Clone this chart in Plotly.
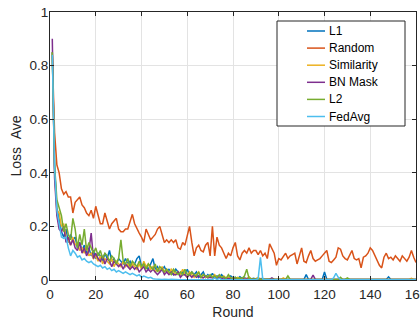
import plotly.graph_objects as go

rounds = list(range(1, 161))

l1 = [0.85, 0.42, 0.27, 0.22, 0.18, 0.16, 0.19, 0.14, 0.17, 0.15,
      0.16, 0.12, 0.14, 0.11, 0.13, 0.10, 0.12, 0.09, 0.11, 0.08,
      0.10, 0.09, 0.07, 0.10, 0.08, 0.11, 0.07, 0.08, 0.06, 0.08,
      0.07, 0.06, 0.08, 0.06, 0.07, 0.05, 0.06, 0.08, 0.09, 0.05,
      0.06, 0.05, 0.04, 0.06, 0.08, 0.04, 0.05, 0.03, 0.04, 0.05,
      0.03, 0.04, 0.03, 0.02, 0.04, 0.03, 0.02, 0.03, 0.02, 0.04,
      0.02, 0.03, 0.02, 0.03, 0.01, 0.02, 0.03, 0.01, 0.02, 0.01,
      0.025, 0.01, 0.015, 0.01, 0.02, 0.01, 0.008, 0.01, 0.015, 0.008,
      0.01, 0.005, 0.012, 0.005, 0.008, 0.005, 0.01, 0.004, 0.006, 0.004,
      0.005, 0.004, 0.006, 0.003, 0.004, 0.003, 0.005, 0.003, 0.003, 0.004,
      0.003, 0.002, 0.004, 0.002, 0.003, 0.002, 0.003, 0.002, 0.002, 0.003,
      0.002, 0.02, 0.002, 0.002, 0.002, 0.003, 0.002, 0.002, 0.002, 0.03,
      0.003, 0.002, 0.002, 0.002, 0.002, 0.002, 0.002, 0.002, 0.002, 0.002,
      0.002, 0.002, 0.002, 0.002, 0.002, 0.002, 0.002, 0.002, 0.002, 0.002,
      0.002, 0.002, 0.002, 0.002, 0.002, 0.002, 0.002, 0.012, 0.002, 0.002,
      0.002, 0.002, 0.002, 0.002, 0.002, 0.002, 0.002, 0.002, 0.002, 0.002]

random_ = [0.84, 0.55, 0.43, 0.40, 0.34, 0.32, 0.33, 0.31, 0.31, 0.25,
           0.29, 0.30, 0.31, 0.28, 0.27, 0.25, 0.24, 0.26, 0.23, 0.275,
           0.24, 0.21, 0.21, 0.25, 0.22, 0.19, 0.21, 0.22, 0.23, 0.19,
           0.18, 0.18, 0.19, 0.19, 0.22, 0.245, 0.21, 0.19, 0.175, 0.16,
           0.14, 0.19, 0.17, 0.15, 0.16, 0.17, 0.19, 0.20, 0.17, 0.14,
           0.15, 0.14, 0.15, 0.14, 0.15, 0.12, 0.115, 0.14, 0.13, 0.17,
           0.20, 0.14, 0.09, 0.12, 0.13, 0.11, 0.105, 0.13, 0.14, 0.09,
           0.20, 0.09, 0.16, 0.13, 0.12, 0.10, 0.08, 0.10, 0.09, 0.12,
           0.14, 0.09, 0.075, 0.10, 0.11, 0.10, 0.12, 0.10, 0.11, 0.11,
           0.095, 0.11, 0.09, 0.10, 0.08, 0.135, 0.12, 0.10, 0.055, 0.08,
           0.075, 0.09, 0.10, 0.08, 0.09, 0.095, 0.10, 0.06, 0.09, 0.12,
           0.07, 0.065, 0.09, 0.11, 0.08, 0.07, 0.075, 0.08, 0.09, 0.10,
           0.11, 0.07, 0.065, 0.075, 0.085, 0.12, 0.115, 0.09, 0.08, 0.075,
           0.09, 0.11, 0.08, 0.075, 0.08, 0.045, 0.085, 0.09, 0.10, 0.12,
           0.11, 0.09, 0.07, 0.055, 0.045, 0.085, 0.10, 0.08, 0.085, 0.075,
           0.09, 0.08, 0.07, 0.09, 0.08, 0.07, 0.085, 0.11, 0.085, 0.065]

similarity = [0.85, 0.40, 0.26, 0.25, 0.20, 0.21, 0.16, 0.15, 0.13, 0.16,
              0.13, 0.14, 0.11, 0.12, 0.10, 0.13, 0.09, 0.10, 0.08, 0.09,
              0.07, 0.09, 0.06, 0.08, 0.07, 0.06, 0.08, 0.05, 0.07, 0.06,
              0.05, 0.07, 0.05, 0.06, 0.04, 0.06, 0.05, 0.04, 0.06, 0.04,
              0.07, 0.05, 0.06, 0.04, 0.05, 0.03, 0.04, 0.03, 0.05, 0.03,
              0.04, 0.02, 0.04, 0.03, 0.02, 0.03, 0.02, 0.04, 0.02, 0.01,
              0.03, 0.02, 0.01, 0.02, 0.03, 0.01, 0.02, 0.01, 0.015, 0.01,
              0.01, 0.02, 0.008, 0.012, 0.008, 0.015, 0.006, 0.01, 0.005, 0.008,
              0.006, 0.01, 0.005, 0.004, 0.006, 0.004, 0.012, 0.004, 0.003, 0.005,
              0.01, 0.003, 0.004, 0.003, 0.003, 0.004, 0.002, 0.003, 0.002, 0.003,
              0.002, 0.008, 0.002, 0.002, 0.003, 0.002, 0.002, 0.002, 0.002, 0.002,
              0.002, 0.002, 0.002, 0.002, 0.002, 0.002, 0.002, 0.002, 0.002, 0.002,
              0.002, 0.002, 0.002, 0.002, 0.002, 0.002, 0.002, 0.002, 0.002, 0.002,
              0.002, 0.002, 0.002, 0.002, 0.002, 0.002, 0.002, 0.002, 0.002, 0.002,
              0.002, 0.002, 0.002, 0.002, 0.002, 0.002, 0.002, 0.002, 0.002, 0.002,
              0.002, 0.002, 0.002, 0.002, 0.002, 0.002, 0.002, 0.006, 0.002, 0.002]

bn_mask = [0.90, 0.38, 0.24, 0.19, 0.18, 0.20, 0.14, 0.16, 0.13, 0.15,
           0.12, 0.11, 0.14, 0.10, 0.12, 0.09, 0.11, 0.175, 0.08, 0.10,
           0.08, 0.07, 0.09, 0.06, 0.08, 0.07, 0.05, 0.07, 0.06, 0.05,
           0.06, 0.04, 0.06, 0.05, 0.04, 0.05, 0.04, 0.05, 0.03, 0.04,
           0.05, 0.03, 0.04, 0.03, 0.04, 0.03, 0.02, 0.03, 0.04, 0.02,
           0.03, 0.02, 0.03, 0.02, 0.02, 0.03, 0.01, 0.02, 0.02, 0.01,
           0.02, 0.01, 0.02, 0.01, 0.015, 0.01, 0.008, 0.015, 0.008, 0.01,
           0.008, 0.012, 0.006, 0.01, 0.005, 0.008, 0.005, 0.006, 0.004, 0.006,
           0.004, 0.005, 0.003, 0.006, 0.003, 0.004, 0.003, 0.005, 0.003, 0.003,
           0.003, 0.004, 0.002, 0.003, 0.002, 0.002, 0.008, 0.002, 0.002, 0.002,
           0.002, 0.002, 0.002, 0.002, 0.002, 0.002, 0.002, 0.002, 0.002, 0.002,
           0.002, 0.002, 0.002, 0.002, 0.018, 0.002, 0.002, 0.002, 0.002, 0.002,
           0.002, 0.002, 0.002, 0.002, 0.002, 0.002, 0.002, 0.002, 0.002, 0.002,
           0.002, 0.002, 0.002, 0.002, 0.002, 0.002, 0.002, 0.002, 0.002, 0.002,
           0.002, 0.002, 0.002, 0.002, 0.002, 0.002, 0.002, 0.002, 0.002, 0.002,
           0.002, 0.002, 0.002, 0.002, 0.002, 0.002, 0.002, 0.002, 0.002, 0.002]

l2 = [0.85, 0.43, 0.30, 0.27, 0.24, 0.18, 0.21, 0.17, 0.15, 0.23,
      0.19, 0.12, 0.17, 0.13, 0.19, 0.11, 0.14, 0.12, 0.10, 0.12,
      0.09, 0.11, 0.08, 0.10, 0.09, 0.07, 0.09, 0.08, 0.06, 0.08,
      0.15, 0.07, 0.06, 0.08, 0.05, 0.07, 0.06, 0.05, 0.07, 0.05,
      0.06, 0.04, 0.06, 0.05, 0.04, 0.06, 0.03, 0.05, 0.04, 0.03,
      0.04, 0.03, 0.02, 0.04, 0.03, 0.02, 0.03, 0.02, 0.04, 0.02,
      0.02, 0.03, 0.02, 0.015, 0.03, 0.01, 0.02, 0.015, 0.01, 0.02,
      0.01, 0.015, 0.008, 0.02, 0.01, 0.012, 0.006, 0.02, 0.008, 0.006,
      0.01, 0.005, 0.008, 0.006, 0.015, 0.04, 0.006, 0.005, 0.004, 0.003,
      0.004, 0.003, 0.003, 0.002, 0.003, 0.002, 0.003, 0.002, 0.002, 0.003,
      0.002, 0.003, 0.002, 0.015, 0.002, 0.002, 0.002, 0.002, 0.002, 0.002,
      0.002, 0.002, 0.002, 0.002, 0.002, 0.002, 0.002, 0.002, 0.002, 0.002,
      0.002, 0.002, 0.002, 0.002, 0.002, 0.002, 0.01, 0.002, 0.002, 0.008,
      0.002, 0.002, 0.002, 0.002, 0.002, 0.002, 0.002, 0.002, 0.002, 0.002,
      0.002, 0.002, 0.002, 0.002, 0.002, 0.002, 0.002, 0.002, 0.002, 0.002,
      0.002, 0.002, 0.002, 0.002, 0.002, 0.002, 0.002, 0.002, 0.002, 0.002]

fedavg = [0.84, 0.42, 0.26, 0.21, 0.16, 0.155, 0.16, 0.12, 0.09, 0.11,
          0.10, 0.085, 0.09, 0.075, 0.08, 0.07, 0.065, 0.07, 0.06, 0.055,
          0.05, 0.055, 0.045, 0.05, 0.04, 0.045, 0.035, 0.04, 0.03, 0.035,
          0.03, 0.025, 0.03, 0.025, 0.02, 0.025, 0.02, 0.015, 0.02, 0.01,
          0.015, 0.01, 0.008, 0.01, 0.005, 0.004, 0.003, 0.004, 0.002, 0.003,
          0.002, 0.002, 0.003, 0.002, 0.001, 0.002, 0.001, 0.001, 0.002, 0.001,
          0.001, 0.001, 0.001, 0.001, 0.001, 0.001, 0.001, 0.001, 0.001, 0.001,
          0.001, 0.008, 0.001, 0.006, 0.001, 0.001, 0.001, 0.001, 0.001, 0.001,
          0.001, 0.001, 0.001, 0.001, 0.001, 0.001, 0.001, 0.001, 0.001, 0.001,
          0.005, 0.085, 0.004, 0.001, 0.001, 0.001, 0.001, 0.001, 0.001, 0.001,
          0.001, 0.001, 0.001, 0.001, 0.001, 0.001, 0.001, 0.001, 0.001, 0.001,
          0.001, 0.001, 0.001, 0.001, 0.001, 0.001, 0.001, 0.001, 0.001, 0.001,
          0.001, 0.001, 0.001, 0.008, 0.025, 0.01, 0.001, 0.001, 0.001, 0.001,
          0.001, 0.001, 0.001, 0.001, 0.001, 0.001, 0.001, 0.001, 0.001, 0.001,
          0.001, 0.001, 0.001, 0.001, 0.001, 0.001, 0.001, 0.001, 0.001, 0.001,
          0.001, 0.001, 0.001, 0.001, 0.001, 0.001, 0.001, 0.001, 0.001, 0.001]

names = ["L1", "Random", "Similarity", "BN Mask", "L2", "FedAvg"]
series = [l1, random_, similarity, bn_mask, l2, fedavg]
colors = ["#0072BD", "#D95319", "#EDB120", "#7E2F8E", "#77AC30", "#4DBEEE"]

x_ticks = [0, 20, 40, 60, 80, 100, 120, 140, 160]
y_ticks = [0, 0.2, 0.4, 0.6, 0.8, 1]
y_tick_labels = ["0", "0.2", "0.4", "0.6", "0.8", "1"]

# layout geometry (pixels)
W, H = 420, 326
ML, MR, MT, MB = 50, 4, 12, 46
PW, PH = W - ML - MR, H - MT - MB


def px_x(px):
    return (px - ML) / PW


def px_y(py):
    return (H - MB - py) / PH


fig = go.Figure()
for name, ys, c in zip(names, series, colors):
    fig.add_trace(go.Scatter(x=rounds, y=ys, mode="lines", name=name,
                             line=dict(color=c, width=1.5), showlegend=False))

axcol = "#262626"
fig.update_layout(
    width=W, height=H,
    margin=dict(l=ML, r=MR, t=MT, b=MB, autoexpand=False),
    paper_bgcolor="white", plot_bgcolor="white",
    font=dict(family="Liberation Sans, Arial, sans-serif", size=13.5, color=axcol),
    showlegend=False,
)
fig.update_xaxes(range=[0, 160], tickvals=x_ticks, showgrid=True, gridcolor="#e3e3e3",
                 zeroline=False, showline=True, linecolor=axcol, linewidth=1, mirror="ticks",
                 ticks="inside", ticklen=4, tickcolor=axcol, ticklabeloverflow="allow",
                 ticklabelstandoff=2, automargin=False,
                 title=dict(text="Round", standoff=5, font=dict(size=14)))
fig.update_yaxes(range=[0, 1], tickvals=y_ticks, ticktext=y_tick_labels, showgrid=True,
                 gridcolor="#e3e3e3", zeroline=False, showline=True, linecolor=axcol,
                 linewidth=1, mirror="ticks", ticks="inside", ticklen=4, tickcolor=axcol,
                 ticklabelstandoff=-2, automargin=False,
                 title=dict(text="Loss\u00a0\u00a0Ave", standoff=4, font=dict(size=14)))

# legend box drawn by hand to match the reference's compact entries
fig.add_shape(type="rect", xref="paper", yref="paper",
              x0=px_x(277), x1=px_x(405), y0=px_y(126), y1=px_y(21),
              line=dict(color=axcol, width=1), fillcolor="white", layer="above")
for i, (name, c) in enumerate(zip(names, colors)):
    yy = px_y(31 + 17.1 * i)
    fig.add_shape(type="line", xref="paper", yref="paper",
                  x0=px_x(307), x1=px_x(325), y0=yy, y1=yy,
                  line=dict(color=c, width=1.5), layer="above")
    fig.add_annotation(xref="paper", yref="paper", x=px_x(327), y=yy,
                       xanchor="left", yanchor="middle", text=name, showarrow=False,
                       font=dict(size=12, color="#000000"))
fig.write_html("out.html")
